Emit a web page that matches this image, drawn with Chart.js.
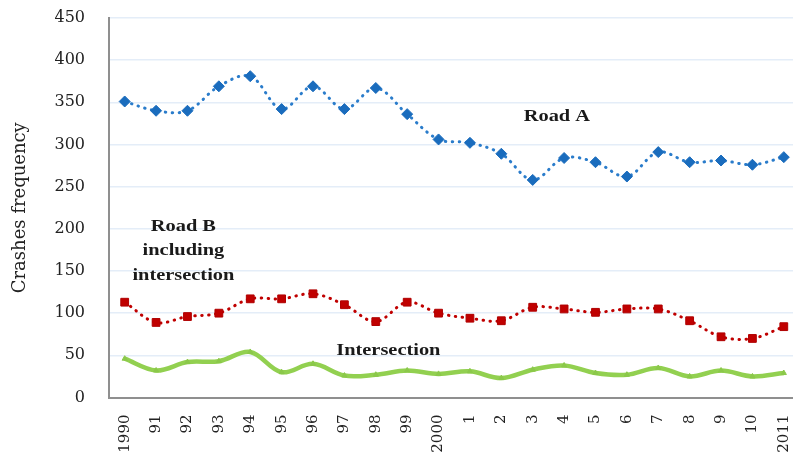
<!DOCTYPE html>
<html>
<head>
<meta charset="utf-8">
<script src="https://cdn.jsdelivr.net/npm/chart.js@4.4.1/dist/chart.umd.min.js"></script>
<style>
html,body{margin:0;padding:0;background:#fff;overflow:hidden;}
#wrap{position:relative;width:806px;height:455px;}
</style>
</head>
<body>
<div id="wrap"><canvas id="c" width="806" height="455"></canvas></div>
<script>
const categories = ['1990','91','92','93','94','95','96','97','98','99','2000','1','2','3','4','5','6','7','8','9','10','2011'];
const roadA = [351,340,340,369,381,342,369,342,367,336,306,302,289,258,284,279,262,291,279,281,276,285];
const roadB = [113,89,96,100,117,117,123,110,90,113,100,94,91,107,105,101,105,105,91,72,70,84];
const intersection = [46,32,42,43,54,30,40,26,27,32,28,31,23,33,38,29,27,35,25,32,25,29];
const yTicks = [0,50,100,150,200,250,300,350,400,450];

const serif = "'DejaVu Serif', 'Liberation Serif', serif";

const labelPlugin = {
  id: 'seriesLabels',
  afterDatasetsDraw(chart) {
    const {ctx, scales:{x, y}} = chart;
    const items = [
      {text:'Road A', xi:13.77, v:333},
      {text:'Road B', xi:1.87, v:203},
      {text:'including', xi:1.87, v:174},
      {text:'intersection', xi:1.87, v:144},
      {text:'Intersection', xi:8.4, v:56}
    ];
    ctx.save();
    ctx.font = "bold 17px 'Liberation Serif', serif";
    ctx.fillStyle = '#1a1a1a';
    ctx.textAlign = 'center';
    ctx.textBaseline = 'middle';
    items.forEach(it => {
      const px = x.getPixelForValue(it.xi);
      const py = y.getPixelForValue(it.v);
      ctx.save();
      ctx.translate(px, py);
      ctx.scale(1.2, 1);
      ctx.fillText(it.text, 0, 0);
      ctx.restore();
    });
    ctx.restore();
  }
};

function noPad(s) { s.paddingTop = 0; s.paddingBottom = 0; s.paddingLeft = 0; s.paddingRight = 0; }

new Chart(document.getElementById('c'), {
  type: 'line',
  data: {
    labels: categories,
    datasets: [
      {
        label: 'Road A', data: roadA,
        borderColor: '#2a7ccb', backgroundColor: '#1a6cbd',
        borderWidth: 3, borderDash: [0.5, 6.5], borderCapStyle: 'round',
        tension: 0.35, pointStyle: 'rectRot', pointRadius: 5.5,
        pointBorderWidth: 1, pointBorderColor: '#1a6cbd', pointBackgroundColor: '#1a6cbd'
      },
      {
        label: 'Road B including intersection', data: roadB,
        borderColor: '#c00000', backgroundColor: '#c00000',
        borderWidth: 3, borderDash: [0.5, 6.5], borderCapStyle: 'round',
        tension: 0.35, pointStyle: 'rect', pointRadius: 5.5,
        pointBorderWidth: 1, pointBorderColor: '#b00000', pointBackgroundColor: '#c00000'
      },
      {
        label: 'Intersection', data: intersection,
        borderColor: '#92d050', backgroundColor: '#92d050',
        borderWidth: 4.5, tension: 0.35, pointStyle: 'triangle', pointRadius: 3,
        pointBorderWidth: 1, pointBorderColor: '#8bc84a', pointBackgroundColor: '#8bc84a'
      }
    ]
  },
  options: {
    responsive: false,
    animation: false,
    devicePixelRatio: 1,
    layout: { padding: { top: 18, right: 1, left: 0, bottom: 0 } },
    plugins: { legend: { display: false }, tooltip: { enabled: false } },
    scales: {
      x: {
        offset: true,
        grid: { display: false, drawTicks: false, offset: true },
        border: { display: true, color: '#8f8f8f', width: 2 },
        ticks: {
          minRotation: 90, maxRotation: 90, autoSkip: false, padding: 17,
          color: '#222', font: { family: serif, size: 15 }
        },
        afterFit(s) { s.height = 57.5; noPad(s); }
      },
      y: {
        min: 0, max: 450,
        afterBuildTicks(s) { s.ticks = yTicks.map(v => ({value: v})); },
        grid: { color: '#e4edf8', lineWidth: 1.6, drawTicks: false },
        border: { display: true, color: '#8f8f8f', width: 2 },
        ticks: { padding: 24, color: '#222', font: { family: serif, size: 16 } },
        title: { display: true, text: 'Crashes frequency', color: '#222',
                 font: { family: serif, size: 18 }, padding: { top: 10, bottom: 0 } },
        afterFit(s) { s.width = 109; noPad(s); }
      }
    }
  },
  plugins: [labelPlugin]
});
</script>
</body>
</html>
